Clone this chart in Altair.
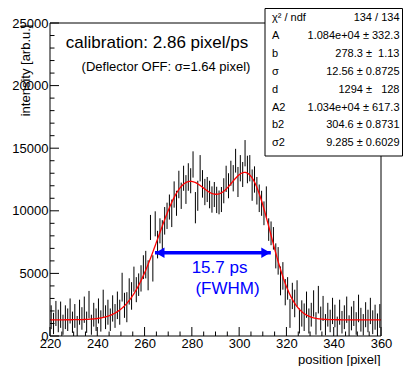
import altair as alt
import numpy as np
import pandas as pd

FONT = "Liberation Sans"

# ---- histogram (bin width 1 pixel, first bin starts at 220) ----
bin_start = 220
bin_width = 1
counts = [
    1500, 1000, 1800, 1200, 1700, 900, 1500, 1300, 2000, 1100,
    1600, 800, 1900, 1400, 2100, 1100, 2500, 900, 1700, 1300,
    2000, 1200, 2600, 1500, 1900, 1300, 2200, 1600, 2450, 1900,
    3900, 2450, 2300, 3560, 3200, 4540, 3700, 4100, 4600, 5500,
    5700, 4850, 8670, 5400, 8960, 7300, 8400, 8100, 9200, 9600,
    10300, 9800, 11300, 10600, 12100, 11200, 12600, 11700, 12700, 12400,
    13700, 10250, 11200, 13400, 12150, 11500, 11700, 11300, 10900, 11300,
    10870, 10670, 10900, 11600, 12550, 12000, 13000, 12600, 14000, 12300,
    13400, 12900, 14600, 13300, 13400, 12050, 12500, 11600, 11000, 10600,
    9800, 10700, 8500, 8200, 7800, 6400, 6000, 4400, 4800, 3500,
    3800, 1800, 3200, 2600, 3400, 1200, 1800, 1500, 2500, 1200,
    1700, 2600, 1000, 2900, 1400, 2200, 900, 1700, 1200, 2000,
    1600, 700, 1900, 1100, 1500, 2100, 800, 1400, 1800, 1000,
    2200, 1300, 900, 1700, 1200, 2000, 1100, 1500, 900, 1600,
]
errors = [
    950, 850, 1000, 900, 1050, 800, 950, 900, 1000, 850,
    950, 800, 1000, 900, 1050, 850, 1100, 800, 950, 900,
    1000, 850, 1100, 950, 1000, 900, 1050, 950,
    1100, 1000, 1150, 1000, 1200, 1050, 1100, 1000, 1000, 900,
    1050, 950, 1100, 1200, 1000, 1050, 1000, 1100, 1000, 1150,
    1100, 1050, 1000, 1100, 1050, 1000, 1100, 1050, 1000, 1150,
    1100, 1000, 1050, 1250, 1200, 1050, 1100, 1050, 1000, 1100,
    1050, 1000, 1050, 950, 1000, 1000, 1050, 1000, 1000, 1050,
    950, 1200, 1050, 1000, 1050, 1100, 1050, 1250, 1050, 1100,
    1100, 1000,
    950, 1250, 900, 950, 900, 1000, 1100, 1150, 1100, 1050,
    900, 1150, 1050, 1100, 1050, 1000, 1050, 1100, 1050, 1000, 950,
    1050, 900, 1100, 950, 1000, 850, 950, 900, 1050, 900,
    850, 1000, 900, 950, 1050, 850, 950, 1000, 900, 1100,
    950, 850, 1000, 900, 1050, 950, 1000, 900, 950,
]
assert len(counts) == 140 and len(errors) == 140

# ---- fit (gaus + gaus + const) parameters from the stat box ----
fit_A, fit_b, fit_s, fit_d = 10840, 278.3, 12.56, 1294
fit_A2, fit_b2, fit_s2 = 10340, 304.6, 9.285

stat_labels = ["\u03c7\u00b2 / ndf", "A", "b", "\u03c3", "d", "A2", "b2", "\u03c32"]
stat_values = ["134 / 134", "1.084e+04 \u00b1 332.3", "278.3 \u00b1\u00a0 1.13",
               "12.56 \u00b1 0.8725", "1294 \u00b1\u00a0\u00a0 128",
               "1.034e+04 \u00b1 617.3", "304.6 \u00b1 0.8731", "9.285 \u00b1 0.6029"]

x_major = [220, 240, 260, 280, 300, 320, 340, 360]
x_minor = [v for v in range(220, 361, 5) if v % 20 != 0]
y_major = [0, 5000, 10000, 15000, 20000, 25000]
y_minor = [v for v in range(0, 25001, 1000) if v % 5000 != 0]

fwhm_from, fwhm_to, fwhm_level = 264.4, 313.4, 6650

W, H = 331, 313

# ---- tables ----
centers = [bin_start + bin_width * (i + 0.5) for i in range(len(counts))]
hist = pd.DataFrame({
    "x": centers,
    "lo": [c - e for c, e in zip(counts, errors)],
    "hi": [c + e for c, e in zip(counts, errors)],
})
xs = np.linspace(220, 360, 701)
fit = pd.DataFrame({
    "x": xs,
    "y": fit_d + fit_A * np.exp(-0.5 * ((xs - fit_b) / fit_s) ** 2)
         + fit_A2 * np.exp(-0.5 * ((xs - fit_b2) / fit_s2) ** 2),
})
one = pd.DataFrame({"k": [0]})

xscale = alt.Scale(domain=[220, 360], nice=False, zero=False)
yscale = alt.Scale(domain=[0, 25000], nice=False, zero=False)

xaxis = alt.Axis(values=x_major, format="d", ticks=False, tickSize=0, domain=False,
                 grid=False, labelFont=FONT, labelFontSize=13, labelColor="black",
                 labelPadding=1.5, labelFlush=False, labelOverlap=False,
                 title="position [pixel]", titleFont=FONT, titleFontSize=13,
                 titleFontWeight="normal", titleColor="black", titleX=330, titleY=23.5,
                 titleAlign="right", titleBaseline="middle")
yaxis = alt.Axis(values=y_major, format="d", ticks=False, tickSize=0, domain=False,
                 grid=False, labelFont=FONT, labelFontSize=13, labelColor="black",
                 labelPadding=2, labelFlush=False, labelOverlap=False,
                 title="intensity [arb.u.]", titleFont=FONT, titleFontSize=13,
                 titleFontWeight="normal", titleColor="black", titleAngle=270,
                 titleX=-25, titleY=1, titleAlign="right", titleBaseline="middle")

bars = alt.Chart(hist).mark_rule(color="black", strokeWidth=1, clip=True).encode(
    x=alt.X("x:Q", scale=xscale, axis=xaxis),
    y=alt.Y("lo:Q", scale=yscale, axis=yaxis),
    y2="hi:Q",
)
curve = alt.Chart(fit).mark_line(color="#ff0000", strokeWidth=1.3, clip=True).encode(
    x=alt.X("x:Q", scale=xscale),
    y=alt.Y("y:Q", scale=yscale),
)

xt_major = alt.Chart(pd.DataFrame({"v": x_major})).mark_rule(color="black").encode(
    x=alt.X("v:Q", scale=xscale), y=alt.value(H), y2=alt.value(H - 9))
xt_minor = alt.Chart(pd.DataFrame({"v": x_minor})).mark_rule(color="black").encode(
    x=alt.X("v:Q", scale=xscale), y=alt.value(H), y2=alt.value(H - 4.5))
yt_major = alt.Chart(pd.DataFrame({"v": y_major})).mark_rule(color="black").encode(
    y=alt.Y("v:Q", scale=yscale), x=alt.value(0), x2=alt.value(9))
yt_minor = alt.Chart(pd.DataFrame({"v": y_minor})).mark_rule(color="black").encode(
    y=alt.Y("v:Q", scale=yscale), x=alt.value(0), x2=alt.value(4.5))

frame = alt.Chart(one).mark_rect(fillOpacity=0, stroke="black", strokeWidth=1).encode(
    x=alt.value(0), x2=alt.value(W), y=alt.value(0), y2=alt.value(H))

# FWHM arrow
arrow_df = pd.DataFrame({"x1": [fwhm_from], "x2": [fwhm_to], "y": [fwhm_level]})
shaft = alt.Chart(arrow_df).mark_rule(color="#0000ff", strokeWidth=3.5).encode(
    x=alt.X("x1:Q", scale=xscale), x2="x2:Q", y=alt.Y("y:Q", scale=yscale))
head_l = alt.Chart(arrow_df).mark_point(shape="triangle-left", filled=True, size=110,
                                         color="#0000ff", opacity=1, xOffset=5).encode(
    x=alt.X("x1:Q", scale=xscale), y=alt.Y("y:Q", scale=yscale))
head_r = alt.Chart(arrow_df).mark_point(shape="triangle-right", filled=True, size=110,
                                         color="#0000ff", opacity=1, xOffset=-5).encode(
    x=alt.X("x2:Q", scale=xscale), y=alt.Y("y:Q", scale=yscale))

def label(text, x, y, size, color="black", align="center"):
    return alt.Chart(pd.DataFrame({"t": [text]})).mark_text(
        font=FONT, fontSize=size, color=color, align=align, baseline="middle").encode(
        text="t:N", x=alt.value(x), y=alt.value(y))

fwhm1 = label("15.7 ps", 169.5, 245, 17, "#0000ff")
fwhm2 = label("(FWHM)", 177.5, 266, 17, "#0000ff")
calib = label("calibration: 2.86 pixel/ps", 107, 19.7, 17)
defl = label("(Deflector OFF: \u03c3=1.64 pixel)", 116, 43.7, 13)

# stat box
box = alt.Chart(one).mark_rect(fill="white", stroke="black", strokeWidth=1).encode(
    x=alt.value(215), x2=alt.value(352.5), y=alt.value(-14.5), y2=alt.value(133))
stats = pd.DataFrame({"lab": stat_labels, "val": stat_values, "row": list(range(len(stat_labels)))})
stat_base = alt.Chart(stats).transform_calculate(ypix="-4.7 + datum.row * 17.86")
stat_lab = stat_base.mark_text(font=FONT, fontSize=11, color="black", align="left",
                               baseline="middle").encode(
    text="lab:N", x=alt.value(222), y=alt.Y("ypix:Q", scale=None, axis=None))
stat_val = stat_base.mark_text(font=FONT, fontSize=11, color="black", align="right",
                               baseline="middle").encode(
    text="val:N", x=alt.value(349.5), y=alt.Y("ypix:Q", scale=None, axis=None))

chart = alt.layer(
    bars, curve, xt_major, xt_minor, yt_major, yt_minor, frame,
    shaft, head_l, head_r, fwhm1, fwhm2, calib, defl, box, stat_lab, stat_val,
).properties(
    width=W, height=H,
    padding={"left": 42, "top": 15, "right": 22, "bottom": 30},
    autosize=alt.AutoSizeParams(type="none"),
    background="white",
).configure_view(strokeWidth=0)

chart.save("out.html", embed_options={"renderer": "svg", "actions": False})
